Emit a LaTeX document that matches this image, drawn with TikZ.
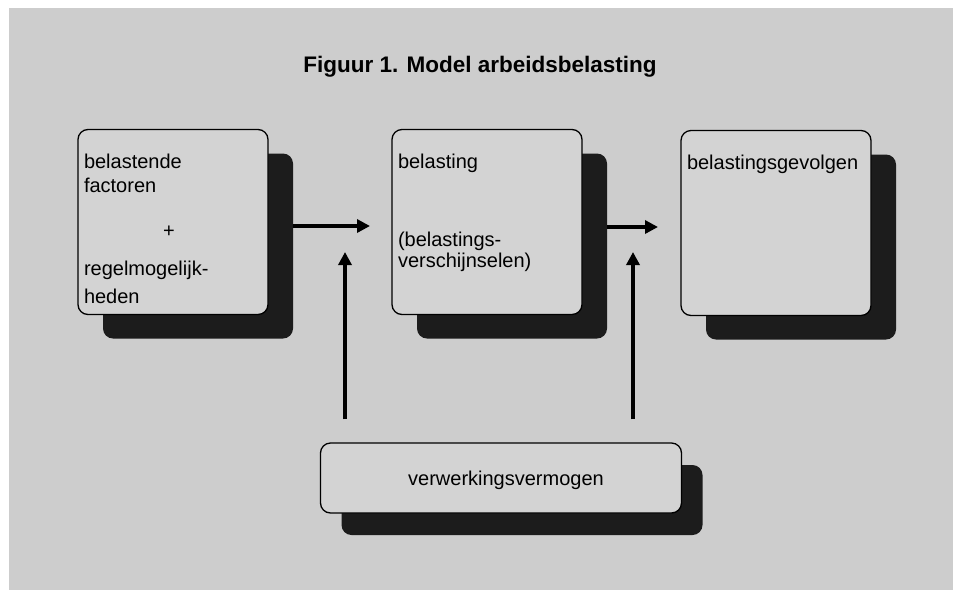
\documentclass[tikz,border=0pt]{standalone}
\usepackage{fontspec}
\setmainfont{Liberation Sans}
\usepackage{tikz}
\usetikzlibrary{arrows.meta, positioning}
\definecolor{panelgray}{RGB}{205,205,205}
\definecolor{boxgray}{RGB}{211,211,211}
\definecolor{shadowblack}{RGB}{28,28,28}
\newcommand{\boxtext}[1]{\parbox[c][185pt][t]{178pt}{\raggedright\vspace*{25pt}#1}}

\begin{document}
\begin{tikzpicture}[x=1pt, y=-1pt,
        block/.style={draw=black, line width=1.3pt, rounded corners=10pt, fill=boxgray,
            minimum width=190pt, minimum height=185pt, inner sep=0pt,
            font=\fontsize{20}{24}\selectfont},
        shade/.style={fill=shadowblack, rounded corners=10pt,
            minimum width=190pt, minimum height=185pt, inner sep=0pt},
        flow/.style={line width=4pt, -{Triangle[length=13pt, width=13pt]}}]
    \fill[white] (0,0) rectangle (953,590);
    \useasboundingbox (0,0) rectangle (953,590);
    \fill[panelgray] (9,8) rectangle (953,590);

    \node[anchor=base, font=\fontsize{22.5}{26}\selectfont\bfseries] (title) at (480,72) {Figuur 1. Model arbeidsbelasting};

    % drie blokken met schaduw
    \node[shade] (f1s) at (198,246) {};
    \node[block] (f1) at (173,222) {\boxtext{belastende\\factoren\\[21pt]\makebox[170pt]{+}\\[14pt]regelmogelijk-\\[4pt]heden}};
    \node[shade] (f2s) at (512,246) {};
    \node[block] (f2) at (487,222) {\boxtext{belasting\\[54pt](belastings-\\[-3pt]verschijnselen)}};
    \node[shade] (f3s) at (801,247) {};
    \node[block] (f3) at (776,223) {\boxtext{belastingsgevolgen}};

    % onderste blok
    \node[shade, minimum width=361pt, minimum height=70pt] (vbs) at (522,500) {};
    \node[block, minimum width=361pt, minimum height=70pt, text depth=0pt] (vb) at (501,478) {\hspace*{10pt}verwerkingsvermogen};

    % pijlen
    \coordinate (h1) at (370,226);
    \coordinate (h2) at (658,227);
    \coordinate (u1) at (345,252);
    \coordinate (u2) at (633,252);
    \draw[flow] (f1s.east |- h1) -- (h1);
    \draw[flow] (f2s.east |- h2) -- (h2);
    \draw[flow] ([yshift=23pt]u1 |- vb.north) -- (u1);
    \draw[flow] ([yshift=23pt]u2 |- vb.north) -- (u2);
\end{tikzpicture}
\end{document}
